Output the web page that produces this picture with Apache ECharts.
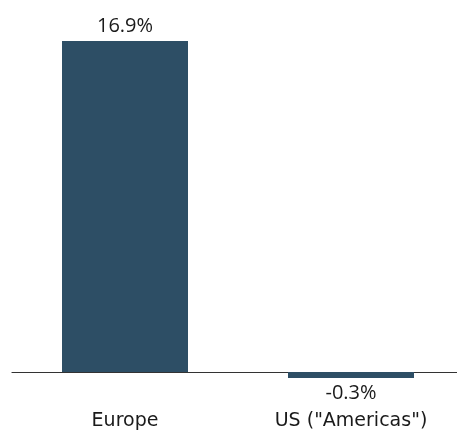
<!DOCTYPE html>
<html>
<head>
<meta charset="utf-8">
<script src="https://cdn.jsdelivr.net/npm/echarts@6/dist/echarts.min.js"></script>
<style>
  html, body { margin: 0; padding: 0; background: #ffffff; }
  #chart { width: 457px; height: 432px; }
</style>
</head>
<body>
<div id="chart"></div>
<script>
// Regional growth, percent
const regions = ['Europe', 'US ("Americas")'];
const growth = [16.9, -0.3];

const barColor = '#2d4e65';
const textColor = '#1a1a1a';
const valueFont = '"Open Sans", sans-serif';
const categoryFont = '"DejaVu Sans", sans-serif';

const chart = echarts.init(document.getElementById('chart'), null, { renderer: 'canvas' });

chart.setOption({
  animation: false,
  grid: { left: 12, right: -7, top: 39, bottom: 40.4, outerBoundsMode: 'none', containLabel: false },
  xAxis: {
    type: 'category',
    data: regions,
    axisLine: { onZero: true, lineStyle: { color: '#333333', width: 1.2 } },
    axisTick: { show: false },
    axisLabel: { margin: 19.5, fontSize: 19, color: textColor, fontFamily: categoryFont }
  },
  yAxis: {
    type: 'value',
    min: -1,
    max: 17,
    show: false,
    splitLine: { show: false }
  },
  series: [{
    type: 'bar',
    data: growth.map(v => ({
      value: v,
      label: { position: v >= 0 ? 'top' : 'bottom' }
    })),
    barWidth: 126,
    itemStyle: { color: barColor },
    label: {
      show: true,
      distance: 5,
      fontSize: 20,
      color: textColor,
      fontFamily: valueFont,
      formatter: p => p.value.toFixed(1) + '%'
    }
  }]
});
</script>
</body>
</html>
